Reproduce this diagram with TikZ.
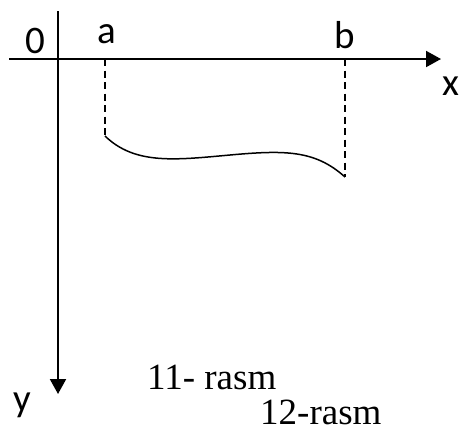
\documentclass[tikz,border=0pt]{standalone}
\usepackage{fontspec}
\setmainfont{Liberation Serif}
\newfontfamily\lblfont{Carlito}
\usetikzlibrary{arrows.meta}
\tikzset{
  axis/.style={line width=2pt,-{Triangle[length=15pt,width=16pt]}},
  guide/.style={line width=1.5pt,dash pattern=on 7pt off 4.5pt},
  curveline/.style={line width=1.5pt},
  lbl/.style={anchor=base,inner sep=0pt,font=\lblfont\fontsize{39}{46}\selectfont},
  captext/.style={anchor=base west,inner sep=0pt,font=\fontsize{37}{44}\selectfont}
}
\begin{document}
\begin{tikzpicture}[x=1pt,y=-1pt]
\useasboundingbox (0,0) rectangle (460,432);
\coordinate (xs) at (9,59);
\coordinate (xe) at (441,59);
\coordinate (ys) at (58,11);
\coordinate (ye) at (58,394);
\coordinate (a0) at (105,59);
\coordinate (a1) at (105,136);
\coordinate (b0) at (345,59);
\coordinate (b1) at (345,177);
\coordinate (m) at (230,155);
\draw[axis] (xs) -- (xe);
\draw[axis] (ys) -- (ye);
\draw[guide] (a0) -- (a1);
\draw[guide] (b0) -- (b1);
\draw[curveline] (a1) .. controls (135,165) and (175,160) .. (m) .. controls (285,150) and (315,150) .. (b1);
\node[lbl] (o) at (35,53) {0};
\node[lbl] (la) at (107,43) {a};
\node[lbl] (lb) at (345,48) {b};
\node[lbl] (lx) at (451,95) {x};
\node[lbl] (ly) at (22,411) {y};
\node[captext] (c1) at (147,389) {11- rasm};
\node[captext] (c2) at (260,424) {12-rasm};
\end{tikzpicture}
\end{document}
